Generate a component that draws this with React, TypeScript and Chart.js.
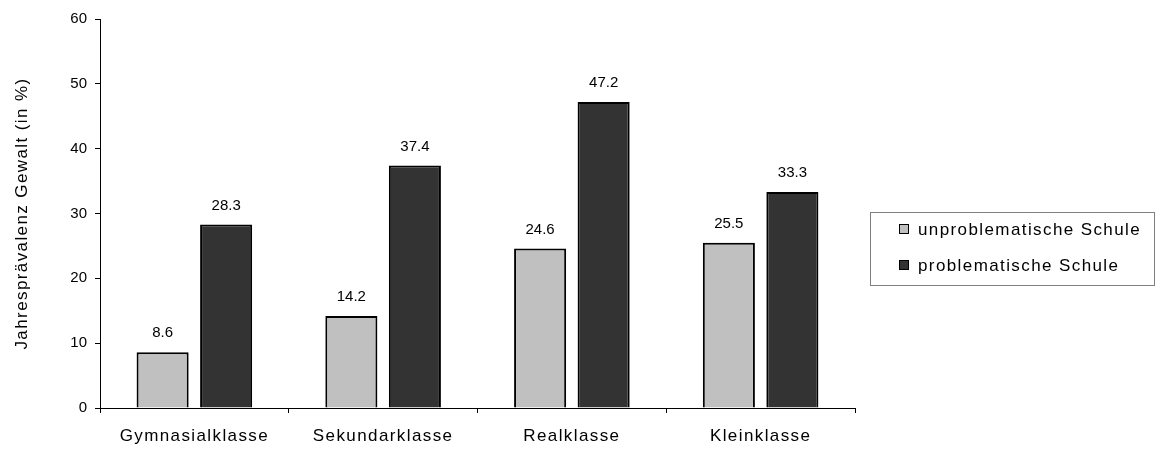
import React, { useEffect, useRef } from "react";
import { Chart, registerables } from "chart.js";

Chart.register(...registerables);

const categories = ["Gymnasialklasse", "Sekundarklasse", "Realklasse", "Kleinklasse"];
const seriesNames = ["unproblematische Schule", "problematische Schule"];
const unproblematisch = [8.6, 14.2, 24.6, 25.5];
const problematisch = [28.3, 37.4, 47.2, 33.3];
const yMin = 0;
const yMax = 60;
const yStep = 10;
const yTitle = "Jahresprävalenz Gewalt (in %)";
const seriesColors = ["#c0c0c0", "#333333"];

const FONT = '"Liberation Sans", Arial, Helvetica, sans-serif';
const SPACING = "1.4px";

const spacingPlugin = {
  id: "spacingPlugin",
  beforeDraw(chart: any) {
    (chart.ctx as any).letterSpacing = "0px";
  },
  afterDatasetsDraw(chart: any) {
    const ctx = chart.ctx;
    ctx.save();
    (ctx as any).letterSpacing = "0px";
    ctx.font = `15px ${FONT}`;
    ctx.fillStyle = "#000";
    ctx.textAlign = "center";
    ctx.textBaseline = "middle";
    chart.data.datasets.forEach((ds: any, i: number) => {
      const meta = chart.getDatasetMeta(i);
      meta.data.forEach((bar: any, j: number) => {
        ctx.fillText(Number(ds.data[j]).toFixed(1), bar.x, bar.y - 19);
      });
    });
    ctx.restore();
    (ctx as any).letterSpacing = SPACING;
  },
  afterDraw(chart: any) {
    const ctx = chart.ctx;
    ctx.save();
    (ctx as any).letterSpacing = SPACING;
    ctx.strokeStyle = "#7f7f7f";
    ctx.lineWidth = 1;
    ctx.strokeRect(870.5, 212.5, 284, 73);
    ctx.font = `17px ${FONT}`;
    ctx.textAlign = "left";
    ctx.textBaseline = "middle";
    const rows = [229, 265];
    chart.data.datasets.forEach((ds: any, i: number) => {
      const y = rows[i];
      ctx.fillStyle = ds.backgroundColor;
      ctx.fillRect(899, y - 5, 10, 10);
      ctx.strokeStyle = "#000";
      ctx.strokeRect(899.5, y - 4.5, 9, 9);
      ctx.fillStyle = "#000";
      ctx.fillText(ds.label, 918, y + 1);
    });
    ctx.restore();
    (ctx as any).letterSpacing = "0px";
  },
};

export default function App() {
  const ref = useRef<HTMLCanvasElement | null>(null);

  useEffect(() => {
    if (!ref.current) return;
    const chart = new Chart(ref.current, {
      type: "bar",
      data: {
        labels: categories,
        datasets: [
          {
            label: seriesNames[0],
            data: unproblematisch,
            backgroundColor: seriesColors[0],
            borderColor: "#000",
            borderWidth: 2,
            categoryPercentage: 0.673,
            barPercentage: 0.82,
          },
          {
            label: seriesNames[1],
            data: problematisch,
            backgroundColor: seriesColors[1],
            borderColor: "#000",
            borderWidth: 2,
            categoryPercentage: 0.673,
            barPercentage: 0.82,
          },
        ],
      },
      options: {
        responsive: false,
        animation: false,
        layout: { padding: { left: 0, top: 19, right: 300, bottom: 0 } },
        font: { family: FONT },
        plugins: {
          legend: { display: false },
          tooltip: { enabled: false },
        },
        scales: {
          x: {
            type: "category",
            offset: true,
            grid: {
              offset: true,
              drawOnChartArea: false,
              drawTicks: true,
              tickLength: 5,
              color: "#000",
              z: 1,
            },
            border: { color: "#000", width: 1, z: 1 },
            ticks: {
              font: { family: FONT, size: 17 },
              color: "#000",
              padding: 13,
              autoSkip: false,
              maxRotation: 0,
              z: 1,
            },
            afterFit: (s: any) => {
              s.height = 41;
            },
          },
          y: {
            min: yMin,
            max: yMax,
            grid: {
              drawOnChartArea: false,
              drawTicks: true,
              tickLength: 5,
              color: "#000",
              z: 1,
            },
            border: { color: "#000", width: 1, z: 1 },
            ticks: {
              stepSize: yStep,
              font: { family: FONT, size: 15 },
              color: "#000",
              padding: 8,
            },
            title: {
              display: true,
              text: yTitle,
              color: "#000",
              font: { family: FONT, size: 17 },
              padding: { top: 12, bottom: 0 },
            },
            afterFit: (s: any) => {
              s.width = 100;
            },
          },
        },
      } as any,
      plugins: [spacingPlugin],
    });
    return () => chart.destroy();
  }, []);

  return (
    <div style={{ position: "fixed", left: 0, top: 0, width: 1155, height: 449, background: "#fff" }}>
      <canvas ref={ref} width={1155} height={449} style={{ display: "block" }} />
    </div>
  );
}
